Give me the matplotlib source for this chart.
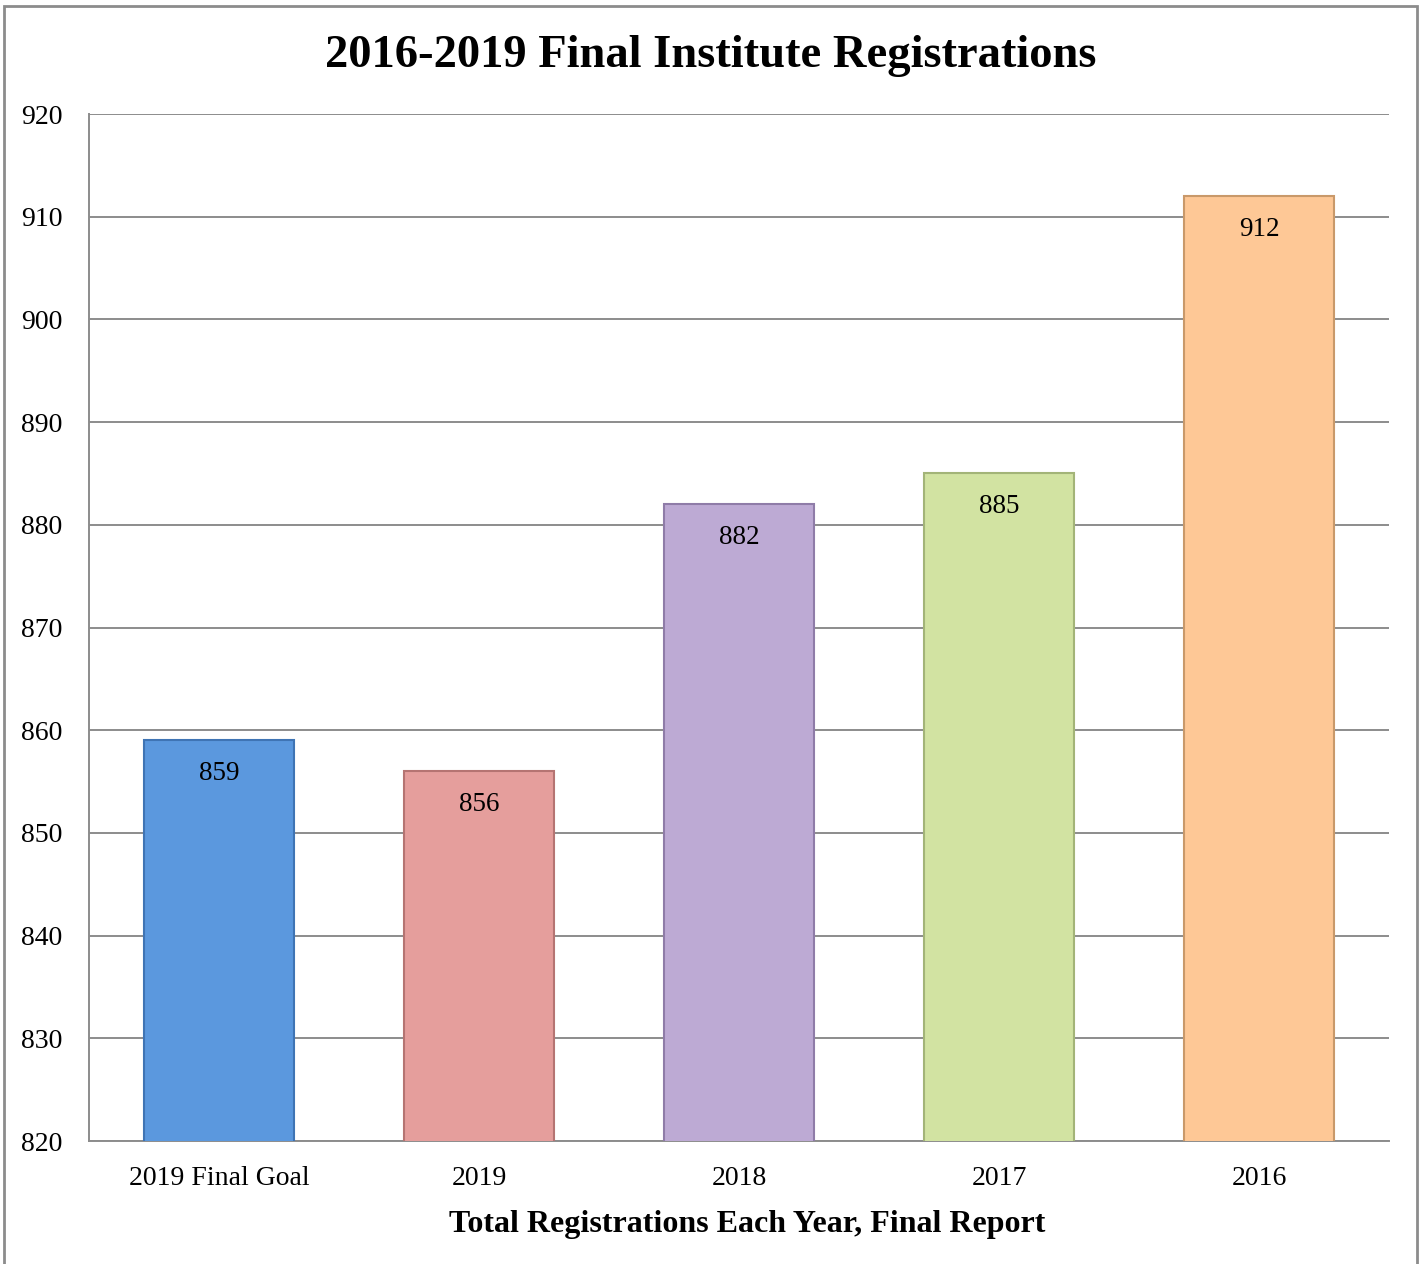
import matplotlib.pyplot as plt
from matplotlib.patches import Rectangle

# data
CATEGORIES = ['2019 Final Goal', '2019', '2018', '2017', '2016']
REGISTRATIONS = [859, 856, 882, 885, 912]
BAR_COLOURS = ['#5b98de', '#e59e9c', '#bdaad4', '#d2e3a2', '#fec896']
EDGE_COLOURS = ['#3f74b4', '#b57472', '#8f7ca8', '#a3b478', '#c9996a']
Y_TICKS = [820, 830, 840, 850, 860, 870, 880, 890, 900, 910, 920]

plt.rcParams['font.family'] = ['Liberation Serif', 'DejaVu Serif']

fig = plt.figure(figsize=(14.21, 12.64), dpi=100)
ax = fig.add_axes([0.0626, 0.0973, 0.9149, 0.8125])

positions = range(len(CATEGORIES))
bars = ax.bar(positions, REGISTRATIONS, width=0.575, bottom=0,
              color=BAR_COLOURS, edgecolor=EDGE_COLOURS, linewidth=1.5,
              zorder=3)

# value labels just inside the top of each bar
for pos, value in zip(positions, REGISTRATIONS):
    ax.annotate(str(value), (pos, value), xytext=(0, -15),
                textcoords='offset points', ha='center', va='top',
                fontsize=19.5, zorder=4)

ax.set_ylim(Y_TICKS[0], Y_TICKS[-1])
ax.set_xlim(-0.5, len(CATEGORIES) - 0.5)
ax.set_yticks(Y_TICKS)
ax.set_xticks(list(positions))
ax.set_xticklabels(CATEGORIES)
ax.tick_params(axis='both', length=0, labelsize=20)
ax.tick_params(axis='y', pad=19)
ax.tick_params(axis='x', pad=18)
ax.yaxis.grid(True, color='#8c8c8c', linewidth=1.4, zorder=0)
ax.set_axisbelow(True)

for side in ['top', 'right']:
    ax.spines[side].set_visible(False)
for side in ['left', 'bottom']:
    ax.spines[side].set_color('#8c8c8c')
    ax.spines[side].set_linewidth(1.4)

ax.set_xlabel('Total Registrations Each Year, Final Report', fontsize=23,
              fontweight='bold', labelpad=13)
ax.xaxis.set_label_coords(0.506, -0.067)
fig.text(0.5, 0.956, '2016-2019 Final Institute Registrations', ha='center',
         va='center', fontsize=33.5, fontweight='bold')

# chart area border
fig.add_artist(Rectangle((4 / 1421, -0.01), 1413 / 1421, 1.01 - 6 / 1264,
                         transform=fig.transFigure, fill=False,
                         edgecolor='#8c8c8c', linewidth=2))

fig.savefig('out.png', dpi=100)
